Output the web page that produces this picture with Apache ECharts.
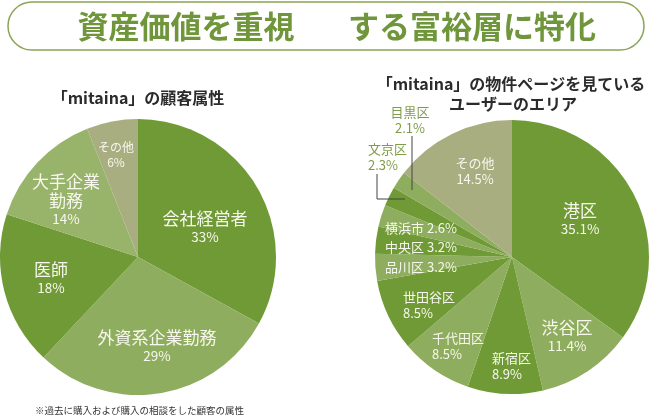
<!DOCTYPE html>
<html><head><meta charset="utf-8">
<script src="https://cdn.jsdelivr.net/npm/echarts@6/dist/echarts.min.js"></script>
<style>html,body{margin:0;padding:0;background:#fff}#c{width:650px;height:415px}</style>
</head><body><div id="c"></div>
<script>
// ---- data ----
const leftCategories = ['会社経営者', '外資系企業勤務', '医師', '大手企業勤務', 'その他'];
const leftValues = [33, 29, 18, 14, 6];
const rightCategories = ['港区', '渋谷区', '新宿区', '千代田区', '世田谷区', '品川区', '中央区', '横浜市', '文京区', '目黒区', 'その他'];
const rightValues = [35.1, 11.4, 8.9, 8.5, 8.5, 3.2, 3.2, 2.6, 2.3, 2.1, 14.5];
const titleLeft = '資産価値を重視';
const titleRight = 'する富裕層に特化';
const subLeft = '「mitaina」の顧客属性';
const subRight1 = '「mitaina」の物件ページを見ている';
const subRight2 = 'ユーザーのエリア';
const footnote = '※過去に購入および購入の相談をした顧客の属性';

// ---- styles / layout ----
const DARK = '#6f9a35', MED = '#8fad5e', LIGHT = '#98b36a', GRAY = '#a9ae80';
const leftColors = [DARK, MED, DARK, LIGHT, GRAY];
const rightColors = [DARK, MED, DARK, MED, DARK, MED, DARK, MED, DARK, MED, GRAY];
const FONT = '"Noto Sans CJK JP", "Noto Sans", sans-serif';
// label layout: [x, y(center of block), align, kind]
const leftLabelPos = [
  [205, 227, 'center', 'big'], [157, 346, 'center', 'big'], [51, 278, 'center', 'big'],
  [66, 200, 'center', 'big'], [116, 155, 'center', 'tiny']
];
const rightLabelPos = [
  [580, 219, 'center', 'big'], [567, 336, 'center', 'big'], [492, 366, 'left', 'small'],
  [432, 346, 'left', 'small'], [403, 305, 'left', 'small'], [385, 267, 'left', 'inline'],
  [385, 247, 'left', 'inline'], [385, 228, 'left', 'inline'], [368, 157, 'left', 'outside'],
  [410, 120, 'center', 'outside'], [475, 171, 'center', 'small']
];
const lineBreaks = { '大手企業勤務': '大手企業\n勤務' };

function fmt(posArr, decimals) {
  return function (p) {
    const kind = posArr[p.dataIndex][3];
    const name = lineBreaks[p.name] || p.name;
    const pct = p.value.toFixed(decimals) + '%';
    if (kind === 'big') return '{n|' + name + '}\n{p|' + pct + '}';
    if (kind === 'tiny') return '{t|' + name + '}\n{t|' + pct + '}';
    if (kind === 'inline') return '{s|' + name + ' ' + pct + '}';
    if (kind === 'outside') return '{o|' + name + '}\n{o|' + pct + '}';
    return '{s|' + name + '}\n{s|' + pct + '}';
  };
}
const rich = {
  n: { fontSize: 17, lineHeight: 19, color: '#f7f7ee', fontFamily: FONT },
  p: { fontSize: 13.5, lineHeight: 17, color: '#f7f7ee', fontFamily: FONT },
  s: { fontSize: 13, lineHeight: 16, color: '#f7f7ee', fontFamily: FONT },
  t: { fontSize: 12, lineHeight: 15, color: '#f7f7ee', fontFamily: FONT },
  o: { fontSize: 13, lineHeight: 16, color: '#7f9d48', fontFamily: FONT }
};
function layoutFor(posArr) {
  return function (params) {
    const p = posArr[params.dataIndex];
    return { x: p[0], y: p[1], align: p[2], verticalAlign: 'middle' };
  };
}

const chart = echarts.init(document.getElementById('c'), null, { renderer: 'canvas' });
chart.setOption({
  animation: false,
  backgroundColor: '#ffffff',
  graphic: [
    { type: 'rect', shape: { x: 8, y: 2, width: 636, height: 48, r: 24 },
      style: { fill: 'none', stroke: '#8ba556', lineWidth: 1.5 } },
    { type: 'text', x: 186, y: 26, style: { text: titleLeft, font: 'bold 31px ' + FONT, fill: '#6f963a', align: 'center', verticalAlign: 'middle' } },
    { type: 'text', x: 472, y: 26, style: { text: titleRight, font: 'bold 31px ' + FONT, fill: '#6f963a', align: 'center', verticalAlign: 'middle' } },
    { type: 'text', x: 138, y: 98, style: { text: subLeft, font: 'bold 16px ' + FONT, fill: '#2b2b2b', align: 'center', verticalAlign: 'middle' } },
    { type: 'text', x: 511, y: 84, style: { text: subRight1, font: 'bold 16px ' + FONT, fill: '#2b2b2b', align: 'center', verticalAlign: 'middle' } },
    { type: 'text', x: 513, y: 104, style: { text: subRight2, font: 'bold 16px ' + FONT, fill: '#2b2b2b', align: 'center', verticalAlign: 'middle' } },
    { type: 'text', x: 35, y: 410, style: { text: footnote, font: '9.5px ' + FONT, fill: '#333', align: 'left', verticalAlign: 'middle' } },
    { type: 'polyline', z: 10, shape: { points: [[412, 136], [412, 190]] }, style: { stroke: '#444', lineWidth: 1, fill: 'none' } },
    { type: 'polyline', z: 10, shape: { points: [[377, 174], [377, 199], [405, 199]] }, style: { stroke: '#444', lineWidth: 1, fill: 'none' } }
  ],
  series: [
    {
      type: 'pie', center: [138, 257], radius: [0, 138], startAngle: 90, clockwise: true,
      silent: true,
      data: leftCategories.map((c, i) => ({ name: c, value: leftValues[i], itemStyle: { color: leftColors[i] } })),
      itemStyle: { borderWidth: 0 },
      label: { show: true, position: 'inside', formatter: fmt(leftLabelPos, 0), rich: rich },
      labelLine: { show: false },
      labelLayout: layoutFor(leftLabelPos)
    },
    {
      type: 'pie', center: [512, 257], radius: [0, 137], startAngle: 90, clockwise: true,
      silent: true,
      data: rightCategories.map((c, i) => ({ name: c, value: rightValues[i], itemStyle: { color: rightColors[i] } })),
      itemStyle: { borderWidth: 0 },
      label: { show: true, position: 'inside', formatter: fmt(rightLabelPos, 1), rich: rich },
      labelLine: { show: false },
      labelLayout: layoutFor(rightLabelPos)
    }
  ]
});
</script></body></html>
